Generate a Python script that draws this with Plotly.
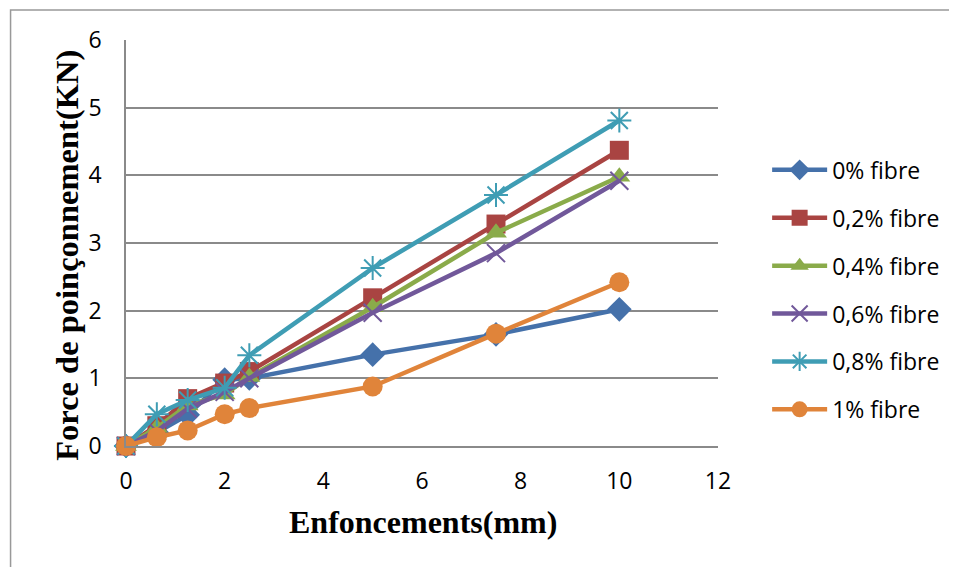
import plotly.graph_objects as go

x_mm = [0, 0.625, 1.25, 2, 2.5, 5, 7.5, 10]

series_names = ["0% fibre", "0,2% fibre", "0,4% fibre", "0,6% fibre", "0,8% fibre", "1% fibre"]
f_0 = [0.0, 0.2, 0.46, 0.98, 1.0, 1.35, 1.65, 2.02]
f_02 = [0.0, 0.3, 0.7, 0.93, 1.1, 2.19, 3.28, 4.37]
f_04 = [0.0, 0.27, 0.6, 0.76, 1.02, 2.05, 3.15, 3.98]
f_06 = [0.0, 0.22, 0.55, 0.8, 1.0, 1.97, 2.85, 3.92]
f_08 = [0.0, 0.47, 0.68, 0.86, 1.34, 2.63, 3.71, 4.81]
f_1 = [0.0, 0.13, 0.23, 0.47, 0.56, 0.88, 1.66, 2.42]

values = [f_0, f_02, f_04, f_06, f_08, f_1]
colors = ["#4571AA", "#A94442", "#8AAB4A", "#71589A", "#3F9DB4", "#E0843A"]
symbols = ["diamond", "square", "triangle-up", "x-thin-open", "asterisk-open", "circle"]
sizes = [19, 19, 19, 18, 20, 20]

fig = go.Figure()
for name, y, c, s, sz in zip(series_names, values, colors, symbols, sizes):
    marker = dict(symbol=s, size=sz, color=c)
    if s.endswith("open"):
        marker["line"] = dict(color=c, width=2)
    fig.add_trace(go.Scatter(
        x=x_mm, y=y, name=name, mode="lines+markers",
        line=dict(color=c, width=4.5),
        marker=marker, cliponaxis=False, legendgroup=name,
    ))

grid = "#8a8a8a"
fig.update_layout(
    width=949, height=559,
    margin=dict(l=118, r=237, t=32, b=121),
    paper_bgcolor="white", plot_bgcolor="white",
    font=dict(family="Open Sans", size=23, color="black"),
    showlegend=True,
    legend=dict(x=1.083, y=0.733, xanchor="left", yanchor="top",
                tracegroupgap=15, itemwidth=55,
                font=dict(size=23, family="Open Sans"),
                bgcolor="rgba(0,0,0,0)"),
    xaxis=dict(range=[0, 12], dtick=2, tick0=0, showgrid=False, zeroline=False,
               showline=True, linecolor=grid, linewidth=1.5, ticks="",
               ticklabelstandoff=14),
    yaxis=dict(range=[0, 6], dtick=1, tick0=0, showgrid=True, gridcolor=grid,
               gridwidth=1.5, zeroline=False, showline=True, linecolor=grid,
               linewidth=1.5, ticks="", ticklabelstandoff=18),
    annotations=[
        dict(text="<b>Enfoncements(mm)</b>", xref="paper", yref="paper", x=0.502, y=-0.187,
             xanchor="center", yanchor="middle", showarrow=False,
             font=dict(family="Liberation Serif", size=32, color="black")),
        dict(text="<b>Force de poinçonnement(KN)</b>", xref="paper", yref="paper",
             x=-0.101, y=0.469, xanchor="center", yanchor="middle", textangle=-90,
             showarrow=False,
             font=dict(family="Liberation Serif", size=32.5, color="black")),
    ],
    shapes=[
        dict(type="rect", xref="paper", yref="paper", x0=-0.195, x1=1.42,
             y0=-0.32, y1=1.074, line=dict(color="#999999", width=1.5),
             fillcolor="rgba(0,0,0,0)", layer="below"),
    ],
)
fig.write_html("out.html")
